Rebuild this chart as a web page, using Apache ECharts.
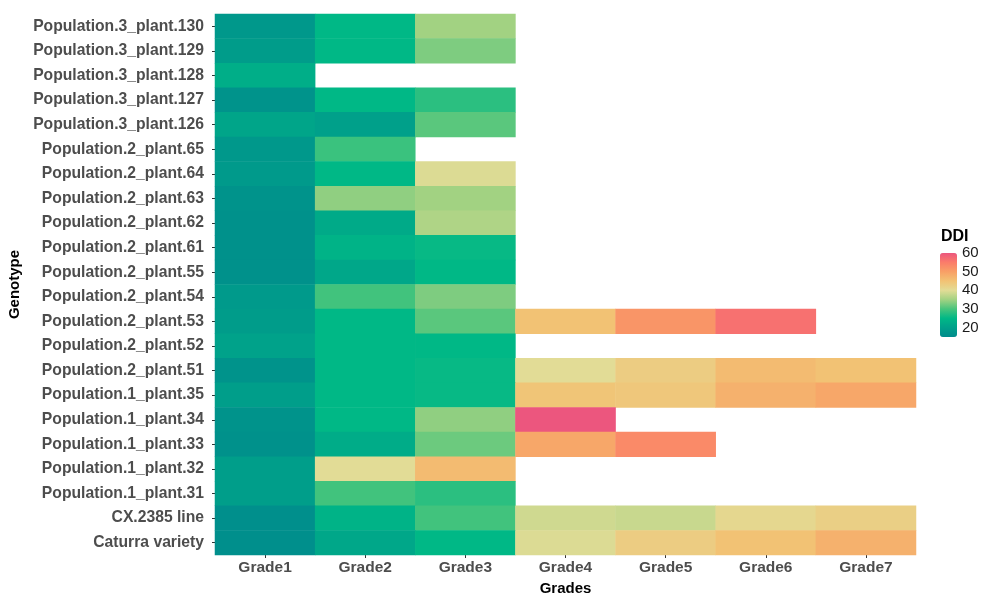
<!DOCTYPE html>
<html>
<head>
<meta charset="utf-8">
<script src="https://cdn.jsdelivr.net/npm/echarts@6/dist/echarts.min.js"></script>
<style>
html, body { margin: 0; padding: 0; background: #fff; }
#chart { width: 982px; height: 594px; }
</style>
</head>
<body>
<div id="chart"></div>
<script>
// categories
var grades = ['Grade1', 'Grade2', 'Grade3', 'Grade4', 'Grade5', 'Grade6', 'Grade7'];
// top to bottom as in the picture
var genotypes = [
    'Population.3_plant.130', 'Population.3_plant.129', 'Population.3_plant.128',
    'Population.3_plant.127', 'Population.3_plant.126', 'Population.2_plant.65',
    'Population.2_plant.64', 'Population.2_plant.63', 'Population.2_plant.62',
    'Population.2_plant.61', 'Population.2_plant.55', 'Population.2_plant.54',
    'Population.2_plant.53', 'Population.2_plant.52', 'Population.2_plant.51',
    'Population.1_plant.35', 'Population.1_plant.34', 'Population.1_plant.33',
    'Population.1_plant.32', 'Population.1_plant.31', 'CX.2385 line', 'Caturra variety'
];
// DDI per genotype, one value per grade (missing = no data)
var ddi = [
    [18, 25, 35],
    [19, 25, 33],
    [23],
    [17, 25, 28],
    [21, 20, 31],
    [18, 29],
    [18.5, 25, 39.5],
    [17, 34, 35],
    [16.5, 22, 36],
    [16.5, 24, 25.5],
    [16.5, 21.5, 25],
    [18.5, 29.5, 33],
    [19, 25, 31, 45, 51.5, 56.5],
    [20.5, 25, 25],
    [17, 25, 25.5, 40, 43, 46, 45],
    [19.5, 25, 25.5, 44.5, 44, 47.5, 49],
    [17, 25, 34, 60.5],
    [16.5, 22.5, 32, 49, 53],
    [19.5, 40, 46],
    [19.5, 29.5, 28],
    [16, 24, 29.5, 38.5, 38, 41, 42.5],
    [16, 21.5, 25, 39.5, 43, 45, 47.5]
];
var legendTicks = [20, 30, 40, 50, 60];
var ddiMin = 15, ddiMax = 60;

var myChart = echarts.init(document.getElementById('chart'));

var cells = [];
ddi.forEach(function (row, i) {
    row.forEach(function (v, j) {
        if (v != null) cells.push([j, genotypes[i], v]);
    });
});

// colour bar box
var barTop = 253, barH = 84, barX = 940, barW = 17;
var graphics = [{
    type: 'text', left: 941, top: 229,
    style: { text: 'DDI', font: 'bold 16px "Liberation Sans", Arial', fill: '#000' }
}];
legendTicks.forEach(function (t) {
    var y = barTop + barH * (ddiMax - t) / (ddiMax - ddiMin);
    graphics.push({
        type: 'text', x: 962, y: y,
        style: { text: String(t), font: '15px "Liberation Sans", Arial', fill: '#1a1a1a', textVerticalAlign: 'middle' }
    });
    graphics.push({ type: 'line', shape: { x1: barX, y1: y, x2: barX + 3, y2: y }, style: { stroke: '#fff', lineWidth: 1 } });
    graphics.push({ type: 'line', shape: { x1: barX + barW - 3, y1: y, x2: barX + barW, y2: y }, style: { stroke: '#fff', lineWidth: 1 } });
});

var option = {
    animation: false,
    grid: { left: 215, right: 66, top: 14, bottom: 39, outerBoundsMode: 'none', containLabel: false },
    xAxis: {
        type: 'category',
        data: grades,
        name: 'Grades',
        nameLocation: 'middle',
        nameGap: 24,
        nameTextStyle: { color: '#000', fontWeight: 'bold', fontSize: 15, fontFamily: 'Liberation Sans' },
        axisLine: { show: false },
        axisTick: { show: true, alignWithLabel: true, length: 3, lineStyle: { color: '#333' } },
        axisLabel: { color: '#4d4d4d', fontWeight: 'bold', fontSize: 15.5, fontFamily: 'Liberation Sans', margin: 5 },
        splitLine: { show: false }
    },
    yAxis: {
        type: 'category',
        data: genotypes,
        inverse: true,
        name: 'Genotype',
        nameLocation: 'middle',
        nameGap: 189,
        nameRotate: 90,
        nameTextStyle: { color: '#000', fontWeight: 'bold', fontSize: 15, fontFamily: 'Liberation Sans' },
        axisLine: { show: false },
        axisTick: { show: true, alignWithLabel: true, length: 3, lineStyle: { color: '#333' } },
        axisLabel: { color: '#4d4d4d', fontWeight: 'bold', fontSize: 15.7, fontFamily: 'Liberation Sans', margin: 11 },
        splitLine: { show: false }
    },
    visualMap: {
        type: 'continuous',
        min: ddiMin,
        max: ddiMax,
        calculable: false,
        left: barX,
        top: barTop,
        itemWidth: barW,
        itemHeight: barH,
        padding: 0,
        showLabel: false,
        inRange: {
            color: ['#008b8c', '#00a08a', '#00b886', '#48c47c', '#a2d282',
                    '#e2dc96', '#f2c274', '#f8a066', '#fb7c6a', '#ec567e']
        }
    },
    graphic: graphics,
    series: [{
        type: 'heatmap',
        data: cells,
        itemStyle: { borderWidth: 0 },
        emphasis: { disabled: true }
    }]
};

myChart.setOption(option);
window.addEventListener("resize", function () {
    myChart.resize();
});
</script>
</body>
</html>
